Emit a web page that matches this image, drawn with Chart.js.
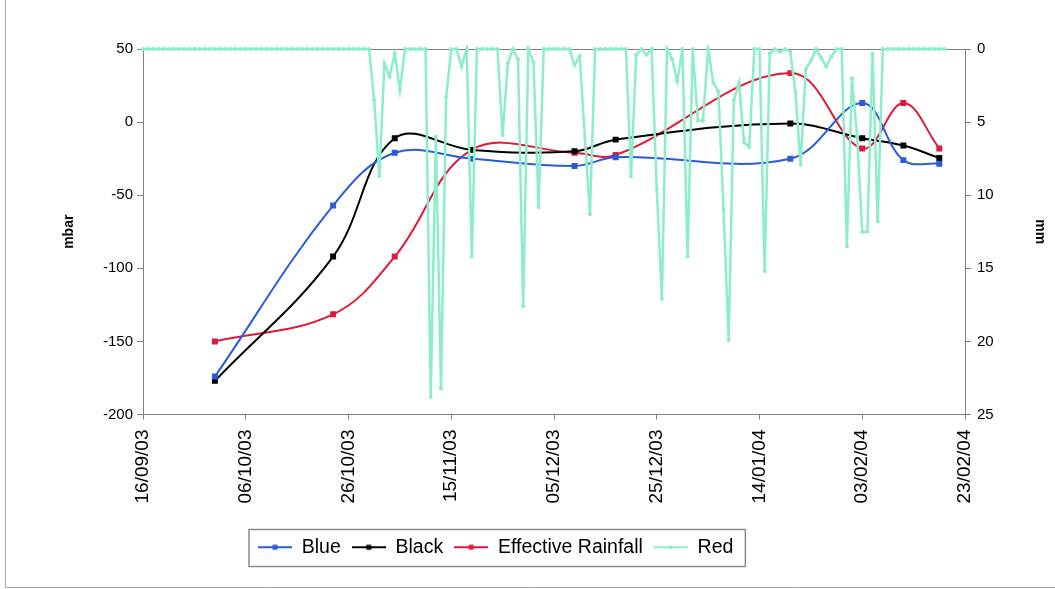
<!DOCTYPE html>
<html>
<head>
<meta charset="utf-8">
<script src="https://cdn.jsdelivr.net/npm/chart.js@4/dist/chart.umd.min.js"></script>
<style>
html,body{margin:0;padding:0;background:#fff;}
#wrap{position:relative;width:1055px;height:589px;}
</style>
</head>
<body>
<div id="wrap"><canvas id="c"></canvas></div>
<script>
// ---- data ----
const startDate = '16/09/03';
const tickLabels = ['16/09/03','06/10/03','26/10/03','15/11/03','05/12/03','25/12/03','14/01/04','03/02/04','23/02/04'];
const sampleDates = ['30/09/03','23/10/03','04/11/03','19/11/03','09/12/03','17/12/03','20/01/04','03/02/04','11/02/04','18/02/04'];
const blueValues  = [-174, -57, -21, -25, -30, -24, -25, 13, -26, -28.5];
const blackValues = [-177, -92, -11, -19, -20, -12, -1, -11, -16, -24.5];
const effRainValues = [-150, -131.5, -92, -19, -21, -22.5, 33.5, -18, 13, -18];
// daily rainfall (mm), one value per day from startDate
const redDaily = [
  0,0,0,0,0,0,0,0,0,0,
  0,0,0,0,0,0,0,0,0,0,
  0,0,0,0,0,0,0,0,0,0,
  0,0,0,0,0,0,0,0,0,0,
  0,0,0,0,0,3.5,8.7,1.0,1.9,0.3,
  2.8,0,0,0,0,0,23.8,6,23.2,3.3,
  0,0,1.2,0,14.2,0,0,0,0,0,
  5.9,1.0,0,0.7,17.6,0,0.9,10.8,0,0,
  0,0,0,0,1.1,0.5,6,11.3,0,0,
  0,0,0,0,0,8.7,0.4,0,0.4,0,
  9.6,17.1,0,0.7,2.2,0,14.2,0,4.9,4.9,
  0,2.3,2.9,11,19.9,3.5,2.3,6.4,6.7,0,
  0,15.2,0.3,0,0.2,0,0.2,3,7.9,1.4,
  0.8,0,0.6,1.2,0.5,0,0,13.5,2.0,6,
  12.5,12.5,0.3,11.8,0,0,0,0,0,0,
  0,0,0,0,0,0,0
];
const seriesNames = ['Blue','Black','Effective Rainfall','Red'];
const leftTitle = 'mbar';
const rightTitle = 'mm';

// ---- helpers ----
function parseD(s){const p=s.split('/').map(Number);return Date.UTC(2000+p[2],p[1]-1,p[0]);}
const t0 = parseD(startDate);
function dayOf(s){return Math.round((parseD(s)-t0)/86400000);}
const tickDays = tickLabels.map(dayOf);
const xMax = tickDays[tickDays.length-1];
const tickStep = tickDays[1]-tickDays[0];
function pts(vals){return vals.map((v,i)=>({x:dayOf(sampleDates[i]),y:v}));}
const redPts = redDaily.map((v,i)=>({x:i,y:v}));

const COL_BLUE='#2b5bd8', COL_BLACK='#000000', COL_RED='#e0193a', COL_AQUA='rgb(140,238,200)';
const FONT='"Liberation Sans", Arial, sans-serif';

function icon(color, dot){
  const c=document.createElement('canvas'); c.width=34; c.height=10;
  const g=c.getContext('2d');
  g.strokeStyle=color; g.lineWidth=2; g.beginPath(); g.moveTo(0,5); g.lineTo(34,5); g.stroke();
  g.fillStyle=color;
  if(dot){g.beginPath(); g.arc(17,5,2,0,Math.PI*2); g.fill();}
  else g.fillRect(14.5,2.5,5,5);
  return c;
}
const icons=[icon(COL_BLUE),icon(COL_BLACK),icon(COL_RED),icon(COL_AQUA,true)];

const framePlugin={
  id:'frame',
  afterLayout(chart){
    const lg=chart.legend;
    if(lg){const w=lg.right-lg.left; lg.left=247; lg.right=247+w;}
  },
  beforeDatasetsDraw(chart){
    const {ctx,chartArea:a}=chart;
    ctx.save(); ctx.strokeStyle='#808080'; ctx.lineWidth=1;
    ctx.beginPath(); ctx.moveTo(a.left,a.top+0.5); ctx.lineTo(a.right,a.top+0.5); ctx.stroke();
    ctx.restore();
  },
  afterDraw(chart){
    const ctx=chart.ctx; const lg=chart.legend;
    ctx.save();
    if(lg && lg.legendHitBoxes && lg.legendHitBoxes.length){
      const hb=lg.legendHitBoxes; const f=hb[0], l=hb[hb.length-1];
      ctx.strokeStyle='#8c8c8c'; ctx.lineWidth=1.5;
      ctx.strokeRect(f.left-9, f.top-8, (l.left+l.width+12)-(f.left-9), 37);
    }
    ctx.strokeStyle='#a8a8a8'; ctx.lineWidth=1;
    ctx.beginPath(); ctx.moveTo(5.5,0); ctx.lineTo(5.5,587.5); ctx.lineTo(1055,587.5); ctx.stroke();
    ctx.restore();
  }
};

new Chart(document.getElementById('c'),{
  type:'line',
  data:{datasets:[
    {label:seriesNames[0],data:pts(blueValues),borderColor:COL_BLUE,backgroundColor:COL_BLUE,borderWidth:2,
     pointStyle:'rect',pointRadius:2.8,tension:0.38,yAxisID:'y',order:1},
    {label:seriesNames[1],data:pts(blackValues),borderColor:COL_BLACK,backgroundColor:COL_BLACK,borderWidth:2,
     pointStyle:'rect',pointRadius:2.8,tension:0.38,yAxisID:'y',order:1},
    {label:seriesNames[2],data:pts(effRainValues),borderColor:COL_RED,backgroundColor:COL_RED,borderWidth:2,
     pointStyle:'rect',pointRadius:2.8,tension:0.38,yAxisID:'y',order:1},
    {label:seriesNames[3],data:redPts,borderColor:COL_AQUA,backgroundColor:COL_AQUA,borderWidth:2.5,
     pointStyle:'circle',pointRadius:2,pointBorderWidth:0,tension:0,yAxisID:'y1',order:0,clip:4}
  ]},
  options:{
    responsive:true,maintainAspectRatio:false,animation:false,
    layout:{padding:{left:0,right:0,top:49,bottom:22}},
    plugins:{
      tooltip:{enabled:false},
      legend:{
        position:'bottom',align:'start',
        labels:{
          usePointStyle:true,pointStyleWidth:34,padding:11,color:'#000',
          font:{family:FONT,size:19.5},
          generateLabels(chart){
            const items=Chart.defaults.plugins.legend.labels.generateLabels(chart);
            items.forEach(it=>{it.pointStyle=icons[it.datasetIndex];it.rotation=0;});
            return items.sort((a,b)=>a.datasetIndex-b.datasetIndex);
          }
        }
      }
    },
    scales:{
      x:{
        type:'linear',min:0,max:xMax,
        afterBuildTicks(s){s.ticks=tickDays.map(v=>({value:v}));},
        afterFit(s){s.height=112;},
        ticks:{stepSize:tickStep,autoSkip:false,minRotation:90,maxRotation:90,padding:10,color:'#000',
          font:{family:FONT,size:19},
          callback(v){const i=tickDays.indexOf(v);return i>=0?tickLabels[i]:'';}},
        grid:{drawOnChartArea:false,tickLength:5,color:'#808080'},
        border:{color:'#808080',width:1}
      },
      y:{
        position:'left',min:-200,max:50,
        afterFit(s){s.width=143;},
        ticks:{stepSize:50,padding:4,color:'#000',font:{family:FONT,size:15}},
        grid:{drawOnChartArea:false,tickLength:6,color:'#808080'},
        border:{color:'#808080',width:1},
        title:{display:true,text:leftTitle,color:'#000',font:{family:FONT,size:14,weight:'bold'},padding:{top:61,bottom:0}}
      },
      y1:{
        position:'right',min:0,max:25,reverse:true,
        afterFit(s){s.width=90;},
        ticks:{stepSize:5,padding:6,color:'#000',font:{family:FONT,size:15}},
        grid:{drawOnChartArea:false,tickLength:6,color:'#808080'},
        border:{color:'#808080',width:1},
        title:{display:true,text:rightTitle,color:'#000',font:{family:FONT,size:14,weight:'bold'},padding:{top:7,bottom:0}}
      }
    }
  },
  plugins:[framePlugin]
});
</script>
</body>
</html>
